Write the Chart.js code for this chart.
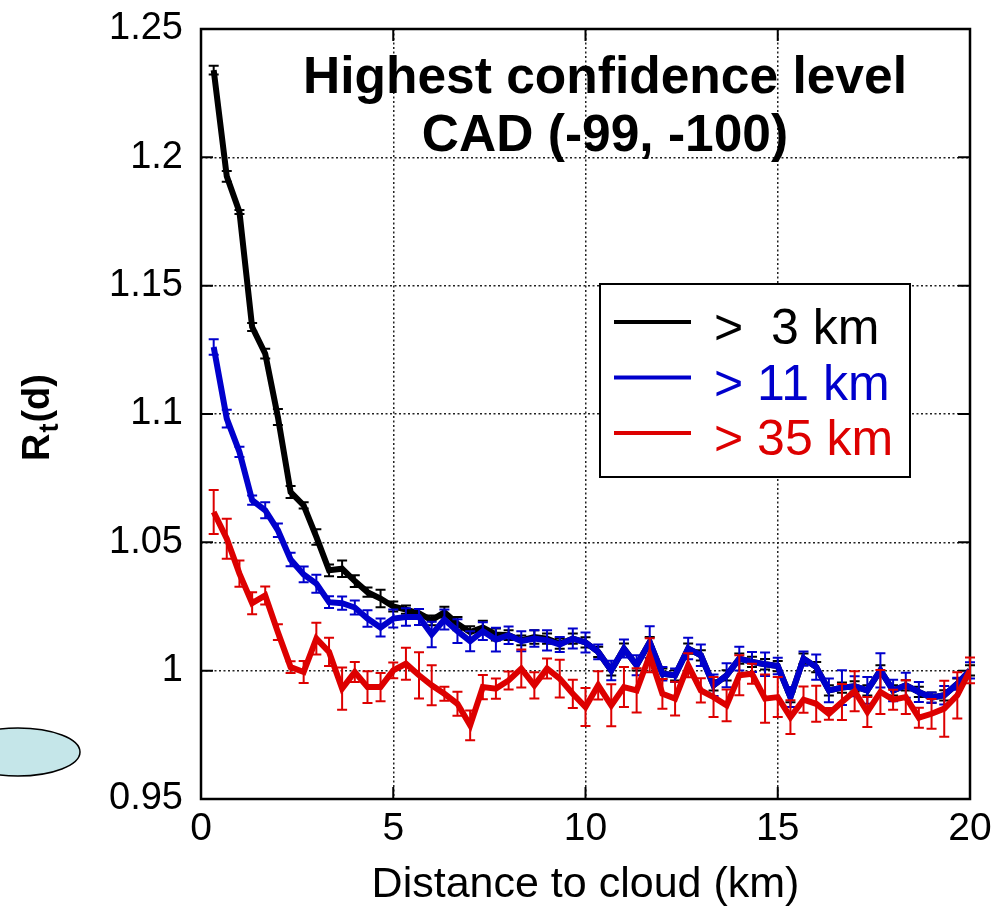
<!DOCTYPE html>
<html>
<head>
<meta charset="utf-8">
<script src="https://cdn.jsdelivr.net/npm/chart.js@4.4.1/dist/chart.umd.min.js"></script>
<style>
html,body{margin:0;padding:0;background:#fff;}
#wrap{width:996px;height:917px;position:relative;}
</style>
</head>
<body>
<div id="wrap"><canvas id="c" width="996" height="917"></canvas></div>
<script>
// ---------------- DATA ----------------
const distances = [0.33,0.67,1,1.33,1.67,2,2.33,2.67,3,3.33,3.67,4,4.33,4.67,5,5.33,5.67,6,6.33,6.67,7,7.33,7.67,8,8.33,8.67,9,9.33,9.67,10,10.33,10.67,11,11.33,11.67,12,12.33,12.67,13,13.33,13.67,14,14.33,14.67,15,15.33,15.67,16,16.33,16.67,17,17.33,17.67,18,18.33,18.67,19,19.33,19.67,20];

const seriesLabels = ['>  3 km', '> 11 km', '> 35 km'];
const seriesColors = ['#000000', '#0000cc', '#dd0000'];

const ratio3km = [1.234,1.1926,1.1787,1.1339,1.1235,1.0988,1.0696,1.0644,1.0521,1.0391,1.0397,1.0349,1.0306,1.0281,1.0250,1.0238,1.0224,1.0196,1.0228,1.0183,1.0150,1.0168,1.0141,1.0138,1.0118,1.0131,1.0125,1.0105,1.0125,1.0110,1.0073,1.0001,1.0086,1.0021,1.0111,0.9988,0.9982,1.0086,1.0060,0.9943,0.9982,1.0047,1.0034,1.0025,1.0018,0.9897,1.0047,1.0014,0.9923,0.9934,0.9939,0.9923,1.0001,0.9923,0.9943,0.9917,0.9895,0.9904,0.9949,1.0001];
const err3km = [0.0017,0.0021,0.0008,0.0016,0.0019,0.0031,0.0023,0.0012,0.0030,0.0023,0.0032,0.0023,0.0018,0.0034,0.0019,0.0016,0.0016,0.0019,0.0021,0.0026,0.0023,0.0026,0.0023,0.0019,0.0019,0.0026,0.0020,0.0020,0.0020,0.0020,0.0020,0.0020,0.0020,0.0020,0.0020,0.0020,0.0020,0.0020,0.0020,0.0020,0.0020,0.0020,0.0020,0.0020,0.0020,0.0020,0.0020,0.0020,0.0020,0.0020,0.0020,0.0020,0.0020,0.0020,0.0020,0.0020,0.0020,0.0020,0.0020,0.0020];

const ratio11km = [1.1261,1.0982,1.0852,1.0664,1.0625,1.0547,1.0433,1.0375,1.0339,1.0267,1.0263,1.0246,1.0203,1.0168,1.0203,1.0209,1.0209,1.0141,1.0199,1.0154,1.0115,1.0154,1.0121,1.0138,1.0115,1.0125,1.0118,1.0102,1.0125,1.0110,1.0073,1.0001,1.0086,1.0021,1.0111,0.9988,0.9982,1.0086,1.0060,0.9943,0.9982,1.0047,1.0034,1.0025,1.0018,0.9897,1.0047,1.0014,0.9923,0.9934,0.9939,0.9923,1.0001,0.9923,0.9943,0.9917,0.9895,0.9904,0.9949,1.0001];
const err11km = [0.0030,0.0035,0.0020,0.0018,0.0031,0.0026,0.0026,0.0031,0.0035,0.0023,0.0026,0.0027,0.0032,0.0035,0.0035,0.0034,0.0031,0.0050,0.0039,0.0046,0.0039,0.0035,0.0046,0.0034,0.0039,0.0032,0.0039,0.0029,0.0039,0.0039,0.0029,0.0038,0.0035,0.0039,0.0062,0.0026,0.0026,0.0042,0.0042,0.0042,0.0047,0.0046,0.0039,0.0046,0.0032,0.0039,0.0028,0.0049,0.0046,0.0068,0.0039,0.0052,0.0067,0.0042,0.0049,0.0039,0.0020,0.0036,0.0023,0.0032];

const ratio35km = [1.0618,1.0514,1.0378,1.0263,1.0293,1.0150,1.0014,0.9995,1.0125,1.0073,0.9930,0.9995,0.9936,0.9936,1.0001,1.0027,0.9982,0.9943,0.9910,0.9871,0.9787,0.9936,0.9930,0.9962,1.0008,0.9943,1.0008,0.9969,0.9910,0.9858,0.9943,0.9865,0.9936,0.9923,1.0060,0.9910,0.9891,1.0021,0.9923,0.9897,0.9865,0.9982,0.9988,0.9891,0.9897,0.9819,0.9887,0.9871,0.9832,0.9878,0.9920,0.9839,0.9917,0.9887,0.9897,0.9817,0.9832,0.9852,0.9904,1.0001];
const err35km = [0.0086,0.0078,0.0051,0.0043,0.0035,0.0031,0.0023,0.0043,0.0062,0.0055,0.0082,0.0039,0.0062,0.0055,0.0031,0.0062,0.0090,0.0078,0.0027,0.0047,0.0058,0.0047,0.0039,0.0035,0.0074,0.0051,0.0039,0.0074,0.0055,0.0074,0.0055,0.0082,0.0078,0.0086,0.0066,0.0058,0.0066,0.0047,0.0047,0.0078,0.0062,0.0078,0.0039,0.0094,0.0078,0.0066,0.0051,0.0070,0.0023,0.0070,0.0078,0.0058,0.0086,0.0039,0.0066,0.0039,0.0058,0.0109,0.0090,0.0050];

const xTickLabels = ['0','5','10','15','20'];
const yTickLabels = ['0.95','1','1.05','1.1','1.15','1.2','1.25'];
const titleLines = ['Highest confidence level', 'CAD (-99, -100)'];
const xTitle = 'Distance to cloud (km)';
const yTitleParts = ['R', 't', '(d)'];

// ---------------- CHART ----------------
const FONT = "'Liberation Sans', Arial, Helvetica, sans-serif";

function toPoints(vals) { return vals.map((v, i) => ({ x: distances[i], y: v })); }

const allVals = [ratio3km, ratio11km, ratio35km];
const allErrs = [err3km, err11km, err35km];

const datasets = allVals.map((vals, s) => ({
  label: seriesLabels[s],
  data: toPoints(vals),
  errors: allErrs[s],
  borderColor: seriesColors[s],
  backgroundColor: seriesColors[s],
  borderWidth: 6,
  pointRadius: 0,
  tension: 0,
  fill: false,
  order: 3 - s
}));

const framePlugin = {
  id: 'frame',
  beforeDraw(chart) {
    const ctx = chart.ctx;
    ctx.save();
    ctx.fillStyle = '#ffffff';
    ctx.fillRect(0, 0, chart.width, chart.height);
    ctx.restore();
  },
  beforeDatasetsDraw(chart) {
    const { ctx, chartArea: a, scales } = chart;
    ctx.save();
    ctx.strokeStyle = '#000';
    ctx.lineWidth = 2;
    ctx.setLineDash([]);
    const tl = 12;
    scales.x.ticks.forEach(t => {
      const px = scales.x.getPixelForValue(t.value);
      ctx.beginPath();
      ctx.moveTo(px, a.bottom); ctx.lineTo(px, a.bottom - tl);
      ctx.moveTo(px, a.top); ctx.lineTo(px, a.top + tl);
      ctx.stroke();
    });
    scales.y.ticks.forEach(t => {
      const py = scales.y.getPixelForValue(t.value);
      ctx.beginPath();
      ctx.moveTo(a.left, py); ctx.lineTo(a.left + tl, py);
      ctx.moveTo(a.right, py); ctx.lineTo(a.right - tl, py);
      ctx.stroke();
    });
    ctx.lineWidth = 2.5;
    ctx.strokeRect(a.left, a.top, a.right - a.left, a.bottom - a.top);
    ctx.restore();
  },
  afterDatasetDraw(chart, args) {
    const ds = chart.data.datasets[args.index];
    if (!ds.errors) return;
    const ctx = chart.ctx, ys = chart.scales.y;
    ctx.save();
    ctx.strokeStyle = ds.borderColor;
    ctx.lineWidth = 2;
    ctx.setLineDash([]);
    args.meta.data.forEach((pt, i) => {
      const v = ds.data[i].y, e = ds.errors[i];
      const y1 = ys.getPixelForValue(v + e), y2 = ys.getPixelForValue(v - e);
      const x = pt.x, cw = 5;
      ctx.beginPath();
      ctx.moveTo(x, y1); ctx.lineTo(x, y2);
      ctx.moveTo(x - cw, y1); ctx.lineTo(x + cw, y1);
      ctx.moveTo(x - cw, y2); ctx.lineTo(x + cw, y2);
      ctx.stroke();
    });
    ctx.restore();
  },
  afterDraw(chart) {
    const ctx = chart.ctx;
    ctx.save();
    // title inside plot
    ctx.fillStyle = '#000';
    ctx.textAlign = 'center';
    ctx.textBaseline = 'alphabetic';
    ctx.font = 'bold 51.5px ' + FONT;
    ctx.fillText(titleLines[0], 605, 93);
    ctx.fillText(titleLines[1], 605, 151);

    // legend box
    const bx = 600, by = 284, bw = 310, bh = 193;
    ctx.fillStyle = '#fff';
    ctx.fillRect(bx, by, bw, bh);
    ctx.strokeStyle = '#000';
    ctx.lineWidth = 2;
    ctx.strokeRect(bx, by, bw, bh);
    ctx.font = '50px ' + FONT;
    ctx.textAlign = 'left';
    chart.data.datasets.forEach((ds, i) => {
      const ly = 322 + i * 55.5;
      ctx.strokeStyle = ds.borderColor;
      ctx.lineWidth = 4;
      ctx.beginPath();
      ctx.moveTo(614, ly); ctx.lineTo(691, ly);
      ctx.stroke();
      ctx.fillStyle = ds.borderColor;
      ctx.fillText(ds.label, 714, ly + 22);
    });

    // y axis title R_t(d), rotated
    ctx.fillStyle = '#000';
    ctx.translate(49, 461);
    ctx.rotate(-Math.PI / 2);
    ctx.textAlign = 'left';
    ctx.font = 'bold 38px ' + FONT;
    const wR = ctx.measureText(yTitleParts[0]).width;
    ctx.fillText(yTitleParts[0], 0, 0);
    ctx.font = 'bold 27px ' + FONT;
    const wt = ctx.measureText(yTitleParts[1]).width;
    ctx.fillText(yTitleParts[1], wR + 1, 9);
    ctx.font = 'bold 38px ' + FONT;
    ctx.fillText(yTitleParts[2], wR + wt + 2, 0);
    ctx.restore();

    // decorative ellipse lower left
    ctx.save();
    ctx.beginPath();
    ctx.ellipse(18, 752, 62, 24, 0, 0, Math.PI * 2);
    ctx.fillStyle = '#c5e6e9';
    ctx.fill();
    ctx.strokeStyle = '#000';
    ctx.lineWidth = 1.5;
    ctx.stroke();
    ctx.restore();
  }
};

new Chart(document.getElementById('c'), {
  type: 'line',
  data: { datasets },
  options: {
    responsive: false,
    animation: false,
    devicePixelRatio: 1,
    layout: { padding: { top: 29, right: 26, bottom: 0, left: 0 } },
    plugins: { legend: { display: false }, tooltip: { enabled: false }, title: { display: false } },
    scales: {
      x: {
        type: 'linear',
        min: 0, max: 20,
        afterFit(scale) { scale.height = 118; scale.paddingLeft = 0; scale.paddingRight = 0; },
        ticks: {
          stepSize: 5,
          color: '#000',
          padding: 7,
          maxRotation: 0,
          font: { family: FONT, size: 39 },
          callback: (v) => xTickLabels.find(l => Math.abs(parseFloat(l) - v) < 1e-6) ?? ''
        },
        grid: { color: '#222', lineWidth: 1.5, drawTicks: false },
        border: { display: false, dash: [2, 2.5] },
        title: {
          display: true,
          text: xTitle,
          color: '#000',
          font: { family: FONT, size: 43 },
          padding: { top: 0, bottom: 6 }
        }
      },
      y: {
        type: 'linear',
        min: 0.95, max: 1.25,
        afterFit(scale) { scale.width = 201; scale.paddingTop = 0; scale.paddingBottom = 0; },
        ticks: {
          stepSize: 0.05,
          color: '#000',
          padding: 18,
          font: { family: FONT, size: 38 },
          callback: (v) => yTickLabels.find(l => Math.abs(parseFloat(l) - v) < 1e-6) ?? ''
        },
        grid: { color: '#222', lineWidth: 1.5, drawTicks: false },
        border: { display: false, dash: [2, 2.5] }
      }
    }
  },
  plugins: [framePlugin]
});
</script>
</body>
</html>
